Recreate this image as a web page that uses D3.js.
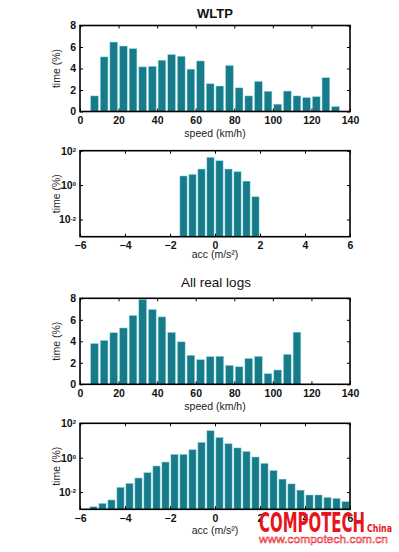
<!DOCTYPE html>
<html>
<head>
<meta charset="utf-8">
<script src="https://cdn.jsdelivr.net/npm/d3@7"></script>
<style>
  body { margin: 0; background: #fff; }
  svg { display: block; font-family: "Liberation Sans", Arial, sans-serif; }
</style>
</head>
<body>
<div id="chart"></div>
<script>
// speed histograms, 5 km/h bins (bin centres)
var wltpSpeedBins = [7.5, 12.5, 17.5, 22.5, 27.5, 32.5, 37.5, 42.5, 47.5, 52.5, 57.5, 62.5, 67.5,
  72.5, 77.5, 82.5, 87.5, 92.5, 97.5, 102.5, 107.5, 112.5, 117.5, 122.5, 127.5, 132.5];
var wltpSpeed = [1.45, 5.08, 6.46, 6.09, 5.85, 4.15, 4.2, 4.77, 5.3, 5.14, 3.94, 4.7, 2.58,
  2.37, 4.28, 2.2, 1.45, 2.8, 1.88, 0.68, 1.9, 1.45, 1.3, 1.38, 3.14, 0.46];

var realSpeedBins = [7.5, 12.5, 17.5, 22.5, 27.5, 32.5, 37.5, 42.5, 47.5, 52.5, 57.5, 62.5, 67.5,
  72.5, 77.5, 82.5, 87.5, 92.5, 97.5, 102.5, 107.5, 112.5];
var realSpeed = [3.79, 4.08, 4.8, 5.24, 6.4, 7.9, 6.96, 6.27, 4.83, 3.95, 2.7, 2.29, 2.57,
  2.6, 1.76, 1.63, 2.41, 2.6, 0.99, 1.33, 2.79, 4.85];

// acceleration histograms, 0.4 m/s2 bins (bin centres), log scale
var wltpAccBins = [-1.4, -1.0, -0.6, -0.2, 0.2, 0.6, 1.0, 1.4, 1.8];
var wltpAcc = [3.4, 4.2, 8.6, 41, 26, 8.6, 6.0, 1.7, 0.21];

var realAccBins = [-5.4, -5.0, -4.6, -4.2, -3.8, -3.4, -3.0, -2.6, -2.2, -1.8, -1.4, -1.0, -0.6,
  -0.2, 0.2, 0.6, 1.0, 1.4, 1.8, 2.2, 2.6, 3.0, 3.4, 3.8, 4.2, 4.6, 5.0, 5.4, 5.8];
var realAcc = [0.0014, 0.0022, 0.0035, 0.019, 0.032, 0.066, 0.135, 0.33, 0.56, 1.56, 1.56, 2.9, 7.8,
  37, 15, 6.5, 3.7, 2.3, 1.1, 0.47, 0.18, 0.057, 0.03, 0.013, 0.0068, 0.0068, 0.0049, 0.0043, 0.0028];

var speedTicks = [0, 20, 40, 60, 80, 100, 120, 140];
var speedTimeTicks = [0, 2, 4, 6, 8];
var accTicks = [-6, -4, -2, 0, 2, 4, 6];
var accTimeTicks = [1e-2, 1, 1e2];

var W = 399, H = 552;
var barColor = '#177b89';

var svg = d3.select('#chart').append('svg').attr('width', W).attr('height', H);
svg.append('rect').attr('width', W).attr('height', H).attr('fill', '#fff');

function drawPanel(opt) {
  var left = 80, right = 350, top = opt.top, bottom = opt.top + 86;
  var x = d3.scaleLinear().domain(opt.xDomain).range([left, right]);
  var y = opt.log
    ? d3.scaleLog().domain([1e-3, 1e2]).range([bottom, top])
    : d3.scaleLinear().domain([0, 8]).range([bottom, top]);
  var g = svg.append('g');

  // bars (MATLAB default bar width 0.8)
  var bw = (x(opt.binWidth) - x(0)) * 0.8;
  g.selectAll('rect.bar')
    .data(opt.values)
    .enter()
    .append('rect')
    .attr('class', 'bar')
    .attr('x', function (d, i) { return x(opt.bins[i]) - bw / 2; })
    .attr('y', function (d) { return y(d); })
    .attr('width', bw)
    .attr('height', function (d) { return bottom - y(d); })
    .attr('fill', barColor)
    .attr('stroke', '#8fdbe4')
    .attr('stroke-width', 0.5);

  // axes, ticks pointing inwards
  g.append('g').attr('transform', 'translate(0,' + bottom + ')')
    .call(d3.axisBottom(x).tickValues(opt.xTicks).tickSize(-3).tickPadding(5).tickFormat(d3.format('d')));
  g.append('g').attr('transform', 'translate(0,' + top + ')')
    .call(d3.axisTop(x).tickValues(opt.xTicks).tickSize(-3).tickFormat(''));
  var yl = g.append('g').attr('transform', 'translate(' + left + ',0)')
    .call(d3.axisLeft(y).tickValues(opt.yTicks).tickSize(-3).tickPadding(4)
      .tickFormat(opt.log ? function () { return '10'; } : d3.format('d')));
  g.append('g').attr('transform', 'translate(' + right + ',0)')
    .call(d3.axisRight(y).tickValues(opt.yTicks).tickSize(-3).tickFormat(''));

  if (opt.log) {
    yl.selectAll('.tick text').each(function (d) {
      d3.select(this).append('tspan')
        .attr('dy', '-0.45em')
        .attr('font-size', '6px')
        .text(Math.round(Math.log10(d)));
    });
  }

  g.selectAll('.domain').remove();
  g.selectAll('.tick line').attr('stroke', '#000').attr('stroke-width', 1);
  g.selectAll('.tick text')
    .attr('font-size', '10.5px')
    .attr('font-weight', 'bold')
    .attr('font-family', '"Liberation Sans", Arial, sans-serif')
    .attr('fill', '#111');

  // box
  g.append('rect')
    .attr('x', left).attr('y', top)
    .attr('width', right - left).attr('height', bottom - top)
    .attr('fill', 'none').attr('stroke', '#000').attr('stroke-width', 1.6);

  g.append('text')
    .attr('x', (left + right) / 2)
    .attr('y', bottom + opt.xLabelGap)
    .attr('text-anchor', 'middle')
    .attr('font-size', '10.5px')
    .attr('fill', '#222')
    .text(opt.xLabel);

  g.append('text')
    .attr('transform', 'translate(60,' + (top + bottom) / 2 + ') rotate(-90)')
    .attr('text-anchor', 'middle')
    .attr('font-size', '10.5px')
    .attr('fill', '#222')
    .text('time (%)');
}

svg.append('text').attr('x', 215).attr('y', 18).attr('text-anchor', 'middle')
  .attr('font-size', '13px').attr('font-weight', 'bold').attr('fill', '#111').text('WLTP');

drawPanel({ top: 25.5, xDomain: [0, 140], xTicks: speedTicks, yTicks: speedTimeTicks, log: false,
  bins: wltpSpeedBins, values: wltpSpeed, binWidth: 5, xLabel: 'speed (km/h)', xLabelGap: 25 });

drawPanel({ top: 150.7, xDomain: [-6, 6], xTicks: accTicks, yTicks: accTimeTicks, log: true,
  bins: wltpAccBins, values: wltpAcc, binWidth: 0.4, xLabel: 'acc (m/s²)', xLabelGap: 21 });

svg.append('text').attr('x', 216).attr('y', 287).attr('text-anchor', 'middle')
  .attr('font-size', '13.5px').attr('fill', '#111').text('All real logs');

drawPanel({ top: 298.3, xDomain: [0, 140], xTicks: speedTicks, yTicks: speedTimeTicks, log: false,
  bins: realSpeedBins, values: realSpeed, binWidth: 5, xLabel: 'speed (km/h)', xLabelGap: 26 });

drawPanel({ top: 423.3, xDomain: [-6, 6], xTicks: accTicks, yTicks: accTimeTicks, log: true,
  bins: realAccBins, values: realAcc, binWidth: 0.4, xLabel: 'acc (m/s²)', xLabelGap: 25 });

// watermark
var wm = svg.append('g').attr('fill', '#e8141b');
wm.append('text').attr('x', 259).attr('y', 532)
  .attr('font-family', '"Liberation Sans Narrow", "DejaVu Sans Condensed", sans-serif')
  .attr('font-size', '26px').attr('font-weight', 'bold')
  .attr('textLength', 106).attr('lengthAdjust', 'spacingAndGlyphs')
  .text('COMPOTECH');
wm.append('text').attr('x', 367).attr('y', 532)
  .attr('font-family', '"Liberation Sans Narrow", "DejaVu Sans Condensed", sans-serif')
  .attr('font-size', '11px').attr('font-weight', 'bold')
  .attr('textLength', 25).attr('lengthAdjust', 'spacingAndGlyphs')
  .text('China');
wm.append('text').attr('x', 259).attr('y', 543)
  .attr('font-size', '11px').attr('fill', '#fff').attr('stroke', '#e8141b').attr('stroke-width', 0.5)
  .attr('textLength', 129).attr('lengthAdjust', 'spacingAndGlyphs')
  .text('www.compotech.com.cn');
</script>
</body>
</html>
